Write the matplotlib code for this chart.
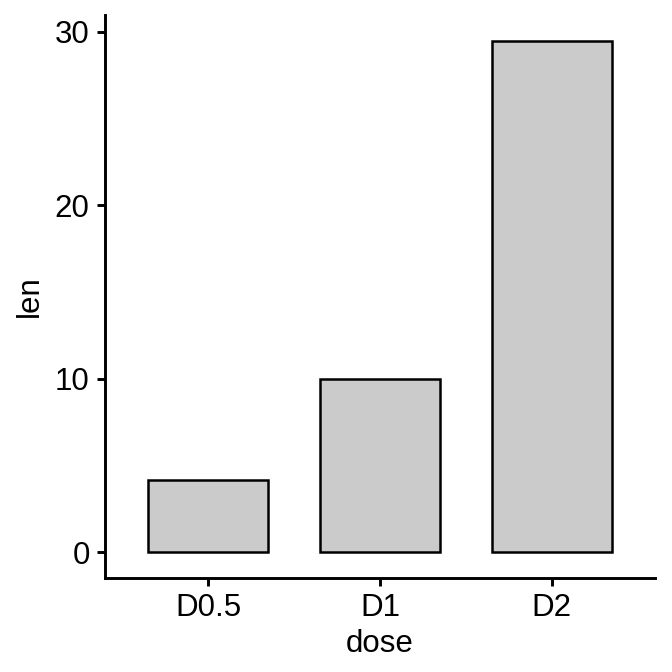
import matplotlib
matplotlib.use("Agg")
from matplotlib import pyplot as plt
import numpy as np

# Data
doses = ["D0.5", "D1", "D2"]
lengths = [4.2, 10.0, 29.5]
y_ticks = [0, 10, 20, 30]

plt.rcParams['font.family'] = ['Liberation Sans', 'DejaVu Sans']

fig = plt.figure(figsize=(6.72, 6.72), dpi=100)
ax = fig.add_axes([0.15625, 0.1399, 0.8185, 0.8378])

x = np.arange(len(doses))
ax.bar(x, lengths, width=0.7, color="#CBCBCB", edgecolor="black", linewidth=1.8)

ax.set_xlim(-0.6, len(doses) - 0.4)
top = max(lengths)
ax.set_ylim(-0.05 * top, 1.05 * top)
ax.set_xticks(x)
ax.set_xticklabels(doses)
ax.set_yticks(y_ticks)

for side in ["top", "right"]:
    ax.spines[side].set_visible(False)
for side in ["left", "bottom"]:
    ax.spines[side].set_linewidth(2.1)

ax.tick_params(axis="both", length=5.5, width=2.1, labelsize=22.5, colors="black", pad=5.5)
ax.set_xlabel("dose", fontsize=22.5, labelpad=4)
ax.set_ylabel("len", fontsize=22.5, labelpad=7)

fig.savefig("out.png", dpi=100)
